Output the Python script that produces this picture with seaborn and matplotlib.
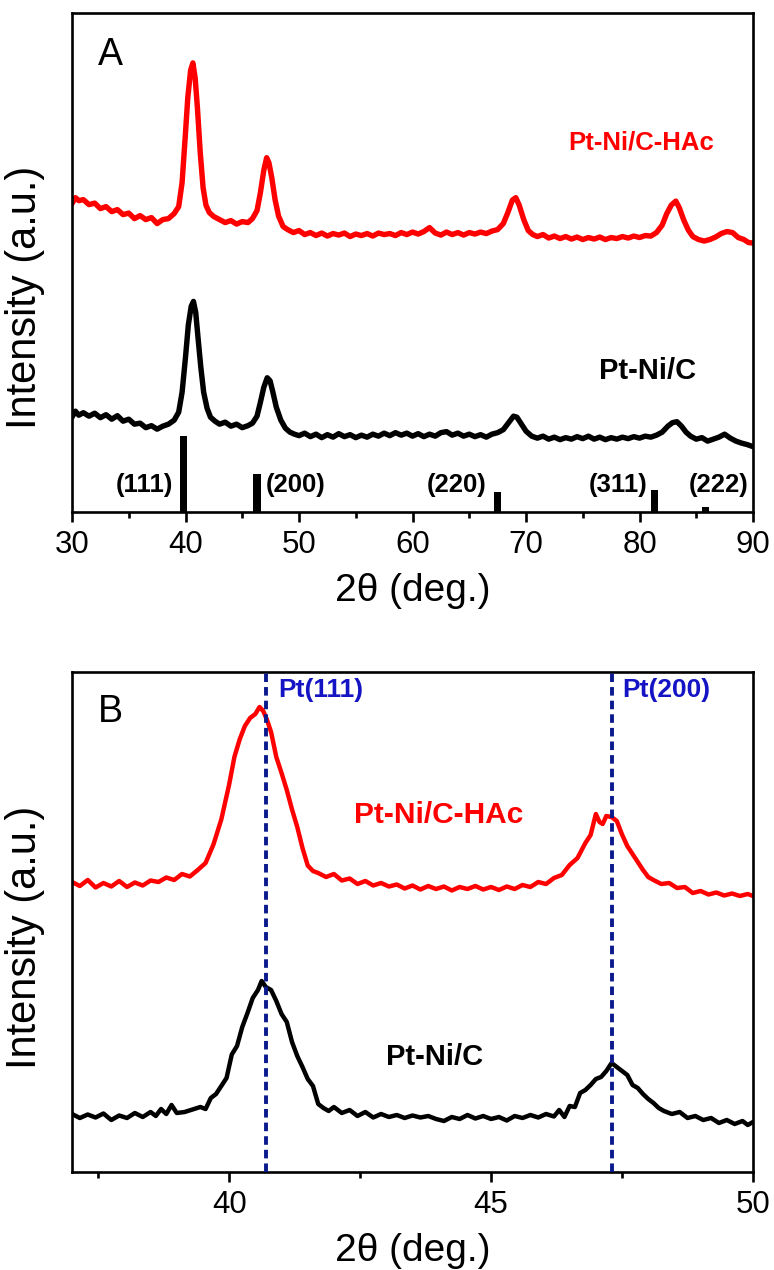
import numpy as np
import pandas as pd
import matplotlib
matplotlib.use("Agg")
import matplotlib.pyplot as plt
from matplotlib.ticker import MultipleLocator
import seaborn as sns

# ---------------- data: panel A (wide scan) ----------------
a_red_x = [30.0, 30.3, 30.6, 31.0, 31.5, 32.0, 32.5, 33.0, 33.5, 34.0, 34.5, 35.0, 35.5, 36.0, 36.5,
           37.0, 37.5, 38.0, 38.5, 39.0, 39.4, 39.7, 40.0, 40.2, 40.45, 40.65, 40.85, 41.05, 41.3,
           41.55, 41.8, 42.1, 42.5, 43.0, 43.5, 44.0, 44.5, 45.0, 45.5, 45.9, 46.3, 46.6, 46.9,
           47.15, 47.35, 47.6, 47.9, 48.2, 48.6, 49.0, 49.5, 50.0, 50.5, 51.0, 51.5, 52.0, 52.5,
           53.0, 53.5, 54.0, 54.5, 55.0, 55.5, 56.0, 56.5, 57.0, 57.5, 58.0, 58.5, 59.0, 59.5,
           60.0, 60.5, 61.0, 61.5, 62.0, 62.5, 63.0, 63.5, 64.0, 64.5, 65.0, 65.5, 66.0, 66.5,
           67.0, 67.5, 68.0, 68.4, 68.8, 69.1, 69.4, 69.8, 70.2, 70.6, 71.0, 71.5, 72.0, 72.5,
           73.0, 73.5, 74.0, 74.5, 75.0, 75.5, 76.0, 76.5, 77.0, 77.5, 78.0, 78.5, 79.0, 79.5,
           80.0, 80.5, 81.0, 81.5, 82.0, 82.4, 82.8, 83.2, 83.5, 83.9, 84.3, 84.7, 85.2, 85.7,
           86.2, 86.7, 87.2, 87.7, 88.2, 88.7, 89.2, 89.6, 90.0]
a_red_y = [61.8, 63.0, 62.4, 62.6, 61.6, 61.9, 60.8, 61.2, 60.2, 60.6, 59.6, 59.9, 58.8, 59.4, 58.6,
           59.0, 57.8, 58.6, 58.8, 59.8, 61.2, 66.0, 76.0, 83.0, 88.5, 90.0, 87.0, 81.0, 72.0,
           65.0, 61.5, 60.0, 59.2, 58.6, 58.0, 58.4, 57.7, 58.2, 58.0, 58.8, 60.4, 64.0, 68.5,
           71.0, 70.0, 67.0, 62.5, 59.3, 57.2, 56.6, 56.0, 56.4, 55.6, 56.0, 55.4, 55.9, 55.3,
           55.8, 55.5, 55.9, 55.2, 55.7, 55.4, 55.8, 55.3, 55.9, 55.6, 55.8, 55.4, 56.0, 55.6,
           56.1, 55.7, 56.2, 57.0, 55.9, 55.5, 56.1, 55.6, 56.0, 55.5, 56.0, 55.7, 56.1, 55.8,
           56.3, 56.6, 57.8, 60.0, 62.5, 63.0, 61.5, 58.6, 56.4, 55.6, 55.2, 55.6, 54.9, 55.3,
           54.8, 55.2, 54.7, 55.1, 54.6, 55.0, 54.7, 55.1, 54.6, 55.0, 54.8, 55.2, 54.9, 55.3,
           55.0, 55.4, 55.3, 56.0, 57.5, 59.8, 61.5, 62.3, 61.0, 58.5, 56.5, 55.2, 54.6, 54.3,
           54.6, 55.1, 55.8, 56.2, 56.0, 55.0, 54.6, 54.0, 53.9]

a_blk_x = [30.0, 30.3, 30.6, 31.0, 31.5, 32.0, 32.5, 33.0, 33.5, 34.0, 34.5, 35.0, 35.5, 36.0, 36.5,
           37.0, 37.5, 38.0, 38.5, 39.0, 39.4, 39.7, 40.0, 40.25, 40.5, 40.7, 40.9, 41.1, 41.35,
           41.6, 41.9, 42.2, 42.6, 43.0, 43.5, 44.0, 44.5, 45.0, 45.5, 45.9, 46.3, 46.6, 46.9,
           47.2, 47.45, 47.7, 48.0, 48.4, 48.8, 49.2, 49.6, 50.0, 50.5, 51.0, 51.5, 52.0, 52.5,
           53.0, 53.5, 54.0, 54.5, 55.0, 55.5, 56.0, 56.5, 57.0, 57.5, 58.0, 58.5, 59.0, 59.5,
           60.0, 60.5, 61.0, 61.5, 62.0, 62.5, 63.0, 63.5, 64.0, 64.5, 65.0, 65.5, 66.0, 66.5,
           67.0, 67.5, 68.0, 68.5, 68.9, 69.2, 69.6, 70.0, 70.5, 71.0, 71.5, 72.0, 72.5, 73.0,
           73.5, 74.0, 74.5, 75.0, 75.5, 76.0, 76.5, 77.0, 77.5, 78.0, 78.5, 79.0, 79.5, 80.0,
           80.5, 81.0, 81.5, 82.0, 82.5, 82.9, 83.3, 83.7, 84.1, 84.5, 85.0, 85.5, 86.0, 86.5,
           87.0, 87.5, 88.0, 88.5, 89.0, 89.5, 90.0]
a_blk_y = [19.0, 20.2, 19.4, 19.9, 19.2, 19.8, 18.9, 19.5, 18.6, 19.3, 18.2, 18.6, 17.6, 17.8, 16.9,
           17.3, 16.6, 17.2, 17.6, 18.4, 20.0, 24.0, 31.0, 37.5, 41.2, 42.2, 40.0, 35.0, 29.0,
           24.0, 20.8, 19.0, 18.2, 17.6, 18.0, 17.2, 17.6, 16.9, 17.3, 17.8, 19.2, 22.0, 25.0,
           26.9, 26.3, 24.0, 21.0, 18.4, 16.8, 16.0, 15.6, 15.3, 15.8, 15.1, 15.6, 14.9, 15.5,
           15.0, 15.7, 15.1, 15.5, 14.9, 15.4, 15.0, 15.6, 15.2, 15.8, 15.3, 15.9, 15.4, 15.8,
           15.2, 15.7, 15.1, 15.6, 15.2, 15.9, 16.1, 15.4, 15.8, 15.2, 15.6, 15.1, 15.5, 15.0,
           15.6, 15.9, 16.5, 18.0, 19.2, 19.0, 17.6, 16.2, 15.2, 14.8, 15.2, 14.6, 15.0, 14.5,
           14.9, 14.6, 15.1, 14.7, 15.2, 14.6, 15.0, 14.5, 14.9, 14.6, 15.0, 14.7, 15.1, 14.8,
           15.2, 15.0, 15.4, 16.0, 17.2, 17.9, 18.1, 17.2, 16.0, 15.2, 14.6, 14.9, 14.2, 14.6,
           15.0, 15.6, 14.8, 14.2, 13.8, 13.5, 13.1]

ref_pos = [39.85, 46.3, 67.5, 81.35, 85.8]
ref_height = [15.2, 7.6, 4.0, 4.4, 1.0]
ref_hkl = ["(111)", "(200)", "(220)", "(311)", "(222)"]
ref_label_x = [36.4, 49.7, 63.9, 78.1, 87.0]

# ---------------- data: panel B (zoomed scan) ----------------
b_red_x = [37.0, 37.15, 37.3, 37.45, 37.6, 37.75, 37.9, 38.05, 38.2, 38.35, 38.5, 38.65, 38.8, 38.95,
           39.1, 39.25, 39.4, 39.55, 39.7, 39.85, 40.0, 40.1, 40.2, 40.3, 40.4, 40.5, 40.58, 40.65,
           40.72, 40.8, 40.9, 41.0, 41.1, 41.2, 41.3, 41.4, 41.5, 41.6, 41.7, 41.85, 42.0, 42.15,
           42.3, 42.45, 42.6, 42.75, 42.9, 43.05, 43.2, 43.35, 43.5, 43.65, 43.8, 43.95, 44.1,
           44.25, 44.4, 44.55, 44.7, 44.85, 45.0, 45.15, 45.3, 45.45, 45.6, 45.75, 45.9, 46.05,
           46.2, 46.35, 46.5, 46.65, 46.8, 46.9, 47.0, 47.07, 47.13, 47.2, 47.3, 47.4, 47.5, 47.6,
           47.7, 47.8, 47.9, 48.0, 48.1, 48.25, 48.4, 48.55, 48.7, 48.85, 49.0, 49.15, 49.3,
           49.45, 49.6, 49.75, 49.9, 50.0]
b_red_y = [58.0, 57.2, 58.4, 56.9, 57.8, 57.1, 58.2, 57.0, 57.9, 57.3, 58.3, 58.0, 58.9, 58.4,
           59.6, 59.1, 60.4, 61.8, 65.5, 70.5, 77.5, 83.0, 86.5, 89.2, 90.8, 91.6, 93.0, 92.2,
           90.5, 88.0, 83.0, 79.8, 76.4, 72.5, 69.0, 64.8, 61.3, 60.2, 59.8, 59.0, 59.6, 58.3,
           58.7, 57.6, 58.2, 57.3, 57.8, 57.1, 57.5, 56.7, 57.3, 56.5, 57.2, 56.6, 57.1,
           56.3, 57.0, 56.6, 57.2, 56.5, 57.0, 56.4, 57.1, 56.6, 57.4, 57.0, 58.0, 57.6,
           58.8, 59.4, 61.4, 62.8, 65.8, 67.4, 71.6, 70.0, 69.6, 71.2, 71.0, 70.2, 67.5, 65.2,
           63.6, 62.0, 60.4, 59.0, 58.4, 57.6, 57.8, 56.8, 57.0, 55.8, 56.2, 55.5, 55.9,
           55.3, 55.7, 55.2, 55.6, 55.2]

b_blk_x = [37.0, 37.15, 37.3, 37.45, 37.6, 37.75, 37.9, 38.05, 38.2, 38.35, 38.5, 38.6, 38.7, 38.8,
           38.9, 39.0, 39.15, 39.3, 39.45, 39.55, 39.65, 39.75, 39.85, 39.95, 40.05, 40.15, 40.25,
           40.35, 40.45, 40.55, 40.62, 40.7, 40.8, 40.9, 41.0, 41.1, 41.2, 41.3, 41.4, 41.5, 41.6,
           41.7, 41.8, 41.9, 42.0, 42.15, 42.3, 42.45, 42.6, 42.75, 42.9, 43.05, 43.2, 43.35, 43.5,
           43.65, 43.8, 43.95, 44.1, 44.25, 44.4, 44.55, 44.7, 44.85, 45.0, 45.15, 45.3, 45.45,
           45.6, 45.75, 45.9, 46.05, 46.2, 46.3, 46.4, 46.5, 46.6, 46.7, 46.8, 46.9, 47.0, 47.1,
           47.2, 47.3, 47.4, 47.5, 47.6, 47.7, 47.8, 47.9, 48.0, 48.1, 48.2, 48.3, 48.45, 48.6,
           48.75, 48.9, 49.05, 49.2, 49.35, 49.5, 49.65, 49.8, 49.9, 50.0]
b_blk_y = [11.6, 10.8, 11.5, 10.9, 11.7, 10.4, 11.3, 10.8, 11.8, 11.0, 12.0, 11.2, 12.6, 11.6,
           13.4, 11.8, 12.0, 12.5, 13.0, 12.6, 14.8, 15.6, 17.2, 18.8, 23.5, 25.2, 29.0,
           31.8, 34.8, 36.4, 38.2, 37.0, 36.4, 34.2, 31.6, 30.0, 26.0, 23.2, 21.0, 18.6, 17.2,
           13.6, 12.8, 12.2, 13.0, 11.8, 12.4, 11.2, 12.0, 10.9, 11.6, 11.0, 11.4, 10.8, 11.3,
           10.9, 11.2, 10.6, 10.2, 11.0, 10.6, 11.4, 10.7, 11.2, 10.6, 11.0, 10.3, 11.2,
           10.8, 11.4, 10.9, 11.6, 11.1, 12.4, 11.0, 13.2, 13.0, 15.8, 16.4, 17.4, 18.6, 19.0,
           20.2, 21.8, 21.0, 20.2, 19.4, 17.4, 16.8, 15.6, 14.6, 13.8, 12.8, 12.2, 11.6, 12.0,
           10.8, 11.2, 10.4, 10.8, 9.8, 10.4, 9.6, 10.2, 9.4, 10.0]

pt_lines = [40.7, 47.3]
pt_labels = ["Pt(111)", "Pt(200)"]
sample_names = ["Pt-Ni/C-HAc", "Pt-Ni/C"]

# ---------------- style ----------------
sns.set_style("white")
plt.rcParams["font.family"] = ["Liberation Sans", "DejaVu Sans"]
plt.rcParams["axes.linewidth"] = 1.9
plt.rcParams["text.color"] = "black"
plt.rcParams["axes.labelcolor"] = "black"
plt.rcParams["xtick.color"] = "black"
plt.rcParams["ytick.color"] = "black"

RED = "#ff0000"
BLACK = "#000000"
NAVY = "#0a1a8c"
BLUE = "#1414c4"

fig = plt.figure(figsize=(7.74, 12.70), dpi=100)
axA = fig.add_axes([72 / 774, 1 - 512 / 1270, 681 / 774, 499 / 1270])
axB = fig.add_axes([72 / 774, 1 - 1172 / 1270, 681 / 774, 500 / 1270])

dfA_red = pd.DataFrame({"x": a_red_x, "y": a_red_y})
dfA_blk = pd.DataFrame({"x": a_blk_x, "y": a_blk_y})
dfB_red = pd.DataFrame({"x": b_red_x, "y": b_red_y})
dfB_blk = pd.DataFrame({"x": b_blk_x, "y": b_blk_y})

# ---- Panel A ----
sns.lineplot(data=dfA_red, x="x", y="y", ax=axA, color=RED, lw=3.9, estimator=None, sort=False)
sns.lineplot(data=dfA_blk, x="x", y="y", ax=axA, color=BLACK, lw=3.9, estimator=None, sort=False)
axA.bar(ref_pos, ref_height, width=0.62, bottom=0, color=BLACK, linewidth=0)
for xl, lab in zip(ref_label_x, ref_hkl):
    axA.text(xl, 5.4, lab, ha="center", va="center", fontsize=18.5, fontweight="bold", color=BLACK)
axA.text(80.1, 74.0, sample_names[0], ha="center", va="center", fontsize=18.5, fontweight="bold",
         color=RED)
axA.text(80.75, 28.3, sample_names[1], ha="center", va="center", fontsize=21, fontweight="bold",
         color=BLACK)
axA.text(33.35, 91.6, "A", ha="center", va="center", fontsize=27, color=BLACK)
axA.set_xlim(30, 90)
axA.set_ylim(0, 100)
axA.xaxis.set_major_locator(MultipleLocator(10))
axA.xaxis.set_minor_locator(MultipleLocator(5))

# ---- Panel B ----
sns.lineplot(data=dfB_red, x="x", y="y", ax=axB, color=RED, lw=3.2, estimator=None, sort=False)
sns.lineplot(data=dfB_blk, x="x", y="y", ax=axB, color=BLACK, lw=3.2, estimator=None, sort=False)
for xv in pt_lines:
    axB.axvline(xv, color=NAVY, lw=2.8, dashes=(2.2, 1.3), zorder=3)
axB.text(40.93, 96.4, pt_labels[0], ha="left", va="center", fontsize=19, fontweight="bold", color=BLUE)
axB.text(47.5, 96.4, pt_labels[1], ha="left", va="center", fontsize=19, fontweight="bold", color=BLUE)
axB.text(44.0, 71.4, sample_names[0], ha="center", va="center", fontsize=21.5, fontweight="bold", color=RED)
axB.text(43.93, 23.0, sample_names[1], ha="center", va="center", fontsize=21, fontweight="bold", color=BLACK)
axB.text(37.73, 92.0, "B", ha="center", va="center", fontsize=27, color=BLACK)
axB.set_xlim(37, 50)
axB.set_ylim(0, 100)
axB.xaxis.set_major_locator(MultipleLocator(5))
axB.xaxis.set_minor_locator(MultipleLocator(2.5))

for ax, ylab_y in ((axA, 0.43), (axB, 0.47)):
    ax.set_yticks([])
    ax.tick_params(axis="x", which="major", direction="out", length=7, width=1.9,
                   labelsize=22.5, pad=6, bottom=True, colors="black")
    ax.tick_params(axis="x", which="minor", direction="out", length=4, width=1.9, bottom=True,
                   colors="black")
    ax.set_xlabel("2θ (deg.)", fontsize=28, labelpad=9, color="black")
    ax.set_ylabel("Intensity (a.u.)", fontsize=30, color="black")
    ax.yaxis.set_label_coords(-0.040, ylab_y)
    for s in ax.spines.values():
        s.set_visible(True)
        s.set_color("black")
        s.set_linewidth(1.9)

fig.savefig("out.png", dpi=100)
